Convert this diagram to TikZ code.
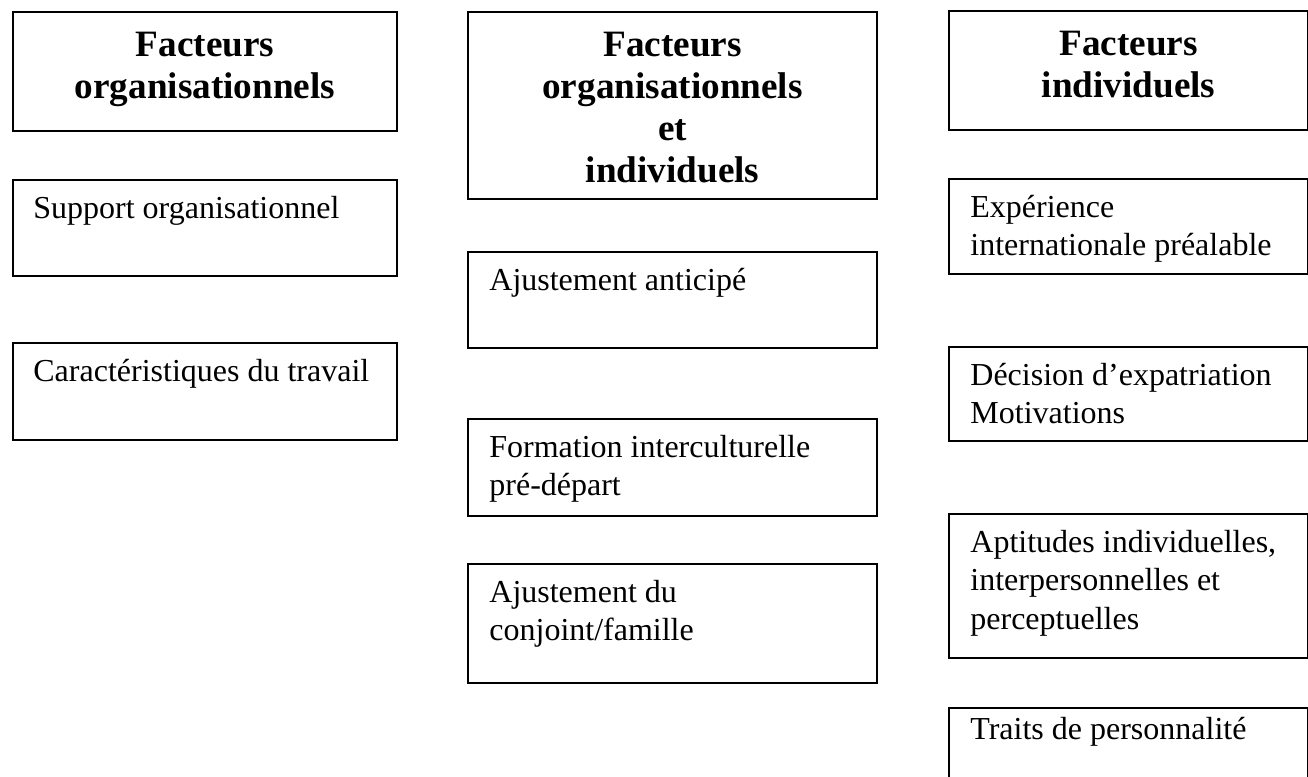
\documentclass[tikz,border=0pt]{standalone}
\usepackage{fontspec}
\setmainfont{Liberation Serif}
\usetikzlibrary{calc}
\tikzset{
  box/.style={draw, line width=1pt, inner sep=0pt, anchor=north west},
  headtxt/.style={font=\bfseries\fontsize{18.6}{21}\selectfont, align=center, inner sep=0pt, anchor=base},
  bodytxt/.style={font=\fontsize{16}{19.25}\selectfont, align=left, inner sep=0pt, anchor=base west},
}
\begin{document}
\begin{tikzpicture}[x=0.5pt,y=-0.5pt]
\useasboundingbox (0,0) rectangle (1308,777);
% left column
\node[box, minimum width=192pt, minimum height=59.5pt] (h1) at (12,11) {};
\node[box, minimum width=192pt, minimum height=48pt] (b1) at (12,179) {};
\node[box, minimum width=192pt, minimum height=48.5pt] (b2) at (12,342) {};
% middle column
\node[box, minimum width=204.5pt, minimum height=93.5pt] (h2) at (467,11) {};
\node[box, minimum width=204.5pt, minimum height=48pt] (m1) at (467,251) {};
\node[box, minimum width=204.5pt, minimum height=48.5pt] (m2) at (467,418) {};
\node[box, minimum width=204.5pt, minimum height=59.5pt] (m3) at (467,563) {};
% right column
\node[box, minimum width=179.5pt, minimum height=59.5pt] (h3) at (948,10) {};
\node[box, minimum width=179.5pt, minimum height=47.5pt] (r1) at (948,178) {};
\node[box, minimum width=179.5pt, minimum height=47pt] (r2) at (948,346) {};
\node[box, minimum width=179.5pt, minimum height=72pt] (r3) at (948,513) {};
\node[box, minimum width=179.5pt, minimum height=45pt] (r4) at (948,707) {};
% texts (anchored at the baseline of the last line)
\node[headtxt] (th1) at ($(h1.north)+(0,87)$) {Facteurs\\organisationnels};
\node[headtxt] (th2) at ($(h2.north)+(0,171)$) {Facteurs\\organisationnels\\et\\individuels};
\node[headtxt] (th3) at ($(h3.north)+(0,87)$) {Facteurs\\individuels};
\node[bodytxt] (tb1) at ($(b1.north west)+(21,39)$) {Support organisationnel};
\node[bodytxt] (tb2) at ($(b2.north west)+(21,39)$) {Caractéristiques du travail};
\node[bodytxt] (tm1) at ($(m1.north west)+(22,39)$) {Ajustement anticipé};
\node[bodytxt] (tm2) at ($(m2.north west)+(22,77.5)$) {Formation interculturelle\\pré-départ};
\node[bodytxt] (tm3) at ($(m3.north west)+(22,77.5)$) {Ajustement du\\conjoint/famille};
\node[bodytxt] (tr1) at ($(r1.north west)+(22,77.5)$) {Expérience\\internationale préalable};
\node[bodytxt] (tr2) at ($(r2.north west)+(22,77.5)$) {Décision d’expatriation\\Motivations};
\node[bodytxt] (tr3) at ($(r3.north west)+(22,116)$) {Aptitudes individuelles,\\interpersonnelles et\\perceptuelles};
\node[bodytxt] (tr4) at ($(r4.north west)+(22,32)$) {Traits de personnalité};
\end{tikzpicture}
\end{document}
